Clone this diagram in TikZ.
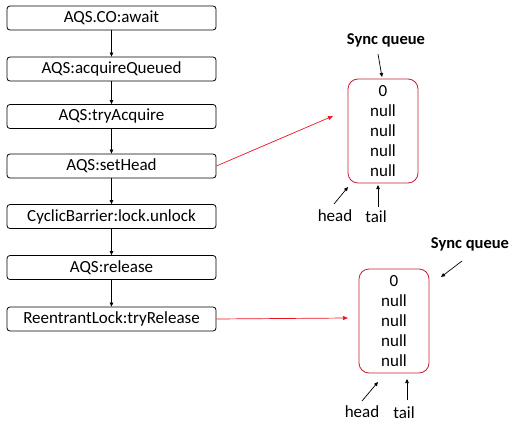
\documentclass[tikz,border=0pt]{standalone}
\usepackage{fontspec}
\setmainfont{Carlito}
\usetikzlibrary{arrows.meta}
\definecolor{qred}{RGB}{200,30,50}
\definecolor{ared}{RGB}{235,20,30}
\begin{document}
\begin{tikzpicture}[x=1pt,y=-1pt,
  stepbox/.style={draw=black,line width=0.8pt,rounded corners=3pt,minimum width=209pt,minimum height=24pt,inner sep=0pt,font=\fontsize{17}{18}\selectfont},
  qbox/.style={draw=qred,line width=0.8pt,rounded corners=10pt,minimum width=70pt,minimum height=104pt,inner sep=0pt,align=center,font=\fontsize{17}{20}\selectfont},
  lbl/.style={inner sep=0pt,font=\fontsize{17}{18}\selectfont},
  qlbl/.style={inner sep=0pt,font=\fontsize{16.5}{18}\selectfont\bfseries},
  arr/.style={-{Triangle[length=4pt,width=3.5pt]},black,line width=0.7pt},
  rarr/.style={-{Triangle[length=5pt,width=4pt]},ared,line width=0.7pt}]
\useasboundingbox (0,0) rectangle (514,428);
\node[stepbox] (s1) at (111.5,18) {AQS.CO:await};
\node[stepbox] (s2) at (111.5,69) {AQS:acquireQueued};
\node[stepbox] (s3) at (111.5,116.5) {AQS:tryAcquire};
\node[stepbox] (s4) at (111.5,166) {AQS:setHead};
\node[stepbox] (s5) at (111.5,216.5) {CyclicBarrier:lock.unlock};
\node[stepbox] (s6) at (111.5,267.5) {AQS:release};
\node[stepbox] (s7) at (111.5,319) {ReentrantLock:tryRelease};
\draw[arr] (s1) -- (s2);
\draw[arr] (s2) -- (s3);
\draw[arr] (s3) -- (s4);
\draw[arr] (s4) -- (s5);
\draw[arr] (s5) -- (s6);
\draw[arr] (s6) -- (s7);
% queue 1
\node[qbox] (q1) at (383,131) {0\\null\\null\\null\\null};
\node[qlbl] (sq1) at (386,40) {Sync queue};
\coordinate (sq1a) at (378,54);
\coordinate (q1t) at (382,77);
\draw[arr] (sq1a) -- (q1t);
\node[lbl] (h1) at (335,216) {head};
\node[lbl] (t1) at (376,217) {tail};
\coordinate (h1a) at (334,204);
\coordinate (h1b) at (348,187);
\draw[arr] (h1a) -- (h1b);
\coordinate (t1a) at (378,207);
\coordinate (t1b) at (378,185);
\draw[arr] (t1a) -- (t1b);
\coordinate (r1) at (333,116);
\draw[rarr] (s4.east) -- (r1);
% queue 2
\node[qbox] (q2) at (394,321) {0\\null\\null\\null\\null};
\node[qlbl] (sq2) at (470,244) {Sync queue};
\coordinate (sq2a) at (462,261);
\coordinate (sq2b) at (441,277);
\draw[arr] (sq2a) -- (sq2b);
\node[lbl] (h2) at (362,412) {head};
\node[lbl] (t2) at (404,413) {tail};
\coordinate (h2a) at (362,401);
\coordinate (h2b) at (378,382);
\draw[arr] (h2a) -- (h2b);
\coordinate (t2a) at (407,400);
\coordinate (t2b) at (407,379);
\draw[arr] (t2a) -- (t2b);
\coordinate (r2) at (348,318);
\draw[rarr] (s7.east) -- (r2);
\end{tikzpicture}
\end{document}
